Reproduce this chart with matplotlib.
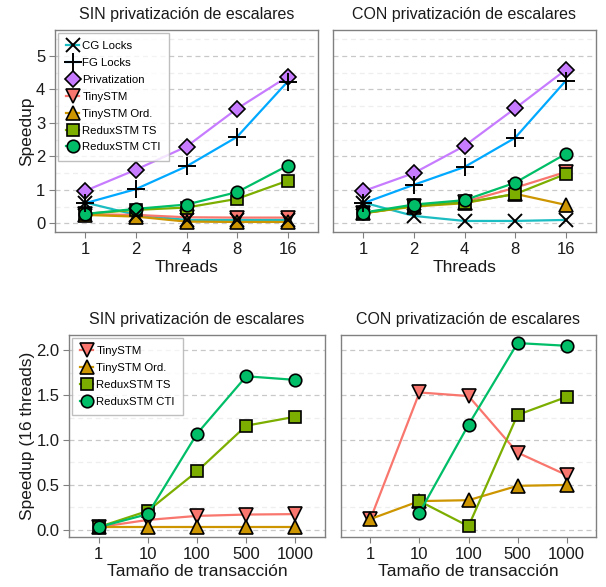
import numpy as np
import matplotlib
matplotlib.use("Agg")
import matplotlib.pyplot as plt
from matplotlib.ticker import MultipleLocator, FormatStrFormatter

plt.rcParams['font.family'] = ['Liberation Sans', 'DejaVu Sans']

threads = ["1", "2", "4", "8", "16"]
sizes = ["1", "10", "100", "500", "1000"]

series_top = ["CG Locks", "FG Locks", "Privatization", "TinySTM", "TinySTM Ord.",
              "ReduxSTM TS", "ReduxSTM CTI"]

# SIN privatización (threads)
sin_cg = [0.62, 0.25, 0.10, 0.10, 0.10]
sin_fg = [0.60, 1.02, 1.70, 2.58, 4.23]
sin_priv = [0.97, 1.60, 2.29, 3.42, 4.38]
sin_tiny = [0.27, 0.25, 0.18, 0.17, 0.17]
sin_tiny_ord = [0.25, 0.20, 0.05, 0.04, 0.04]
sin_ts = [0.28, 0.40, 0.47, 0.73, 1.27]
sin_cti = [0.28, 0.43, 0.56, 0.93, 1.72]

# CON privatización (threads)
con_cg = [0.62, 0.22, 0.07, 0.07, 0.10]
con_fg = [0.60, 1.15, 1.68, 2.55, 4.25]
con_priv = [0.96, 1.50, 2.31, 3.43, 4.58]
con_tiny = [0.30, 0.52, 0.64, 1.06, 1.53]
con_tiny_ord = [0.30, 0.50, 0.60, 0.88, 0.55]
con_ts = [0.30, 0.52, 0.62, 0.87, 1.47]
con_cti = [0.32, 0.56, 0.69, 1.21, 2.07]

# SIN privatización (transaction size, 16 threads)
sz_sin_tiny = [0.03, 0.11, 0.155, 0.17, 0.175]
sz_sin_tiny_ord = [0.03, 0.03, 0.03, 0.03, 0.03]
sz_sin_ts = [0.03, 0.21, 0.65, 1.16, 1.26]
sz_sin_cti = [0.03, 0.175, 1.07, 1.71, 1.67]

# CON privatización (transaction size, 16 threads)
sz_con_tiny = [0.12, 1.53, 1.49, 0.86, 0.61]
sz_con_tiny_ord = [0.12, 0.32, 0.33, 0.49, 0.50]
sz_con_ts = [np.nan, 0.32, 0.04, 1.28, 1.48]
sz_con_cti = [np.nan, 0.19, 1.17, 2.08, 2.05]

colors = {"CG Locks": "#1cbdc2", "FG Locks": "#00a9ff", "Privatization": "#c77cff",
          "TinySTM": "#f8766d", "TinySTM Ord.": "#cd9600",
          "ReduxSTM TS": "#7cae00", "ReduxSTM CTI": "#00be67"}
markers = {"CG Locks": "x", "FG Locks": "+", "Privatization": "D",
           "TinySTM": "v", "TinySTM Ord.": "^",
           "ReduxSTM TS": "s", "ReduxSTM CTI": "o"}
msizes = {"CG Locks": 10, "FG Locks": 13, "Privatization": 8,
          "TinySTM": 10, "TinySTM Ord.": 10,
          "ReduxSTM TS": 8, "ReduxSTM CTI": 9}

fig = plt.figure(figsize=(6.06, 5.87), dpi=100)
ax_tl = fig.add_axes([55/606, 1-232/587, 263/606, 202/587])
ax_tr = fig.add_axes([333/606, 1-232/587, 263/606, 202/587])
ax_bl = fig.add_axes([69/606, 1-537/587, 256/606, 202/587])
ax_br = fig.add_axes([341/606, 1-537/587, 255/606, 202/587])

spine_col = "#808080"


def draw(ax, labels, names, data, title, xlabel, ylabel, ylim, major, minor, legend, ticklabels):
    x = np.arange(1, len(labels) + 1)
    for name, vals in zip(names, data):
        c = colors[name]
        m = markers[name]
        if m in ("x", "+"):
            ax.plot(x, vals, color=c, lw=1.6, zorder=3)
            ax.plot(x, vals, linestyle="none", marker=m, ms=msizes[name],
                    mec="black", mew=1.4, zorder=4)
            ax.plot([], [], color=c, lw=1.6, marker=m, ms=msizes[name],
                    mec="black", mew=1.4, label=name)
        else:
            ax.plot(x, vals, color=c, lw=1.6, marker=m, ms=msizes[name],
                    mfc=c, mec="black", mew=1.2, label=name, zorder=3)
    ax.set_xlim(0.4, 5.6)
    ax.set_ylim(*ylim)
    ax.set_xticks(x)
    ax.set_xticklabels(labels)
    ax.yaxis.set_major_locator(MultipleLocator(major))
    ax.yaxis.set_minor_locator(MultipleLocator(minor))
    ax.grid(axis="y", which="major", color="#c8c8c8", linestyle=(0, (4, 3)), lw=0.9, zorder=0)
    ax.grid(axis="y", which="minor", color="#eeeeee", linestyle=(0, (4, 3)), lw=0.9, zorder=0)
    ax.tick_params(which="minor", left=False)
    ax.tick_params(which="major", direction="out", length=4, color=spine_col,
                   labelsize=12, labelcolor="#1a1a1a", pad=3)
    if not ticklabels:
        ax.tick_params(axis="y", labelleft=False, left=False)
    for s in ax.spines.values():
        s.set_color(spine_col)
        s.set_linewidth(1.0)
    ax.set_title(title, fontsize=11.5, color="#1a1a1a", pad=8)
    ax.set_xlabel(xlabel, fontsize=12.5, color="#1a1a1a", labelpad=2)
    if ylabel:
        ax.set_ylabel(ylabel, fontsize=12.5, color="#1a1a1a", labelpad=1)
    if legend:
        leg = ax.legend(loc="upper left", fontsize=8.2, frameon=True, fancybox=False,
                        edgecolor="#b0b0b0", handlelength=1.1, handletextpad=0.3,
                        labelspacing=0.6, borderpad=0.75, borderaxespad=0.25)
        leg.get_frame().set_linewidth(1.0)
        leg.set_zorder(5)


draw(ax_tl, threads, series_top,
     [sin_cg, sin_fg, sin_priv, sin_tiny, sin_tiny_ord, sin_ts, sin_cti],
     "SIN privatización de escalares", "Threads", "Speedup",
     (-0.26, 5.77), 1, 0.5, True, True)
draw(ax_tr, threads, series_top,
     [con_cg, con_fg, con_priv, con_tiny, con_tiny_ord, con_ts, con_cti],
     "CON privatización de escalares", "Threads", None,
     (-0.26, 5.77), 1, 0.5, False, False)

series_bot = ["TinySTM", "TinySTM Ord.", "ReduxSTM TS", "ReduxSTM CTI"]
draw(ax_bl, sizes, series_bot,
     [sz_sin_tiny, sz_sin_tiny_ord, sz_sin_ts, sz_sin_cti],
     "SIN privatización de escalares", "Tamaño de transacción", "Speedup (16 threads)",
     (-0.08, 2.17), 0.5, 0.25, True, True)
ax_bl.yaxis.set_major_formatter(FormatStrFormatter("%.1f"))
draw(ax_br, sizes, series_bot,
     [sz_con_tiny, sz_con_tiny_ord, sz_con_ts, sz_con_cti],
     "CON privatización de escalares", "Tamaño de transacción", None,
     (-0.08, 2.17), 0.5, 0.25, False, False)

fig.savefig("out.png", dpi=100)
